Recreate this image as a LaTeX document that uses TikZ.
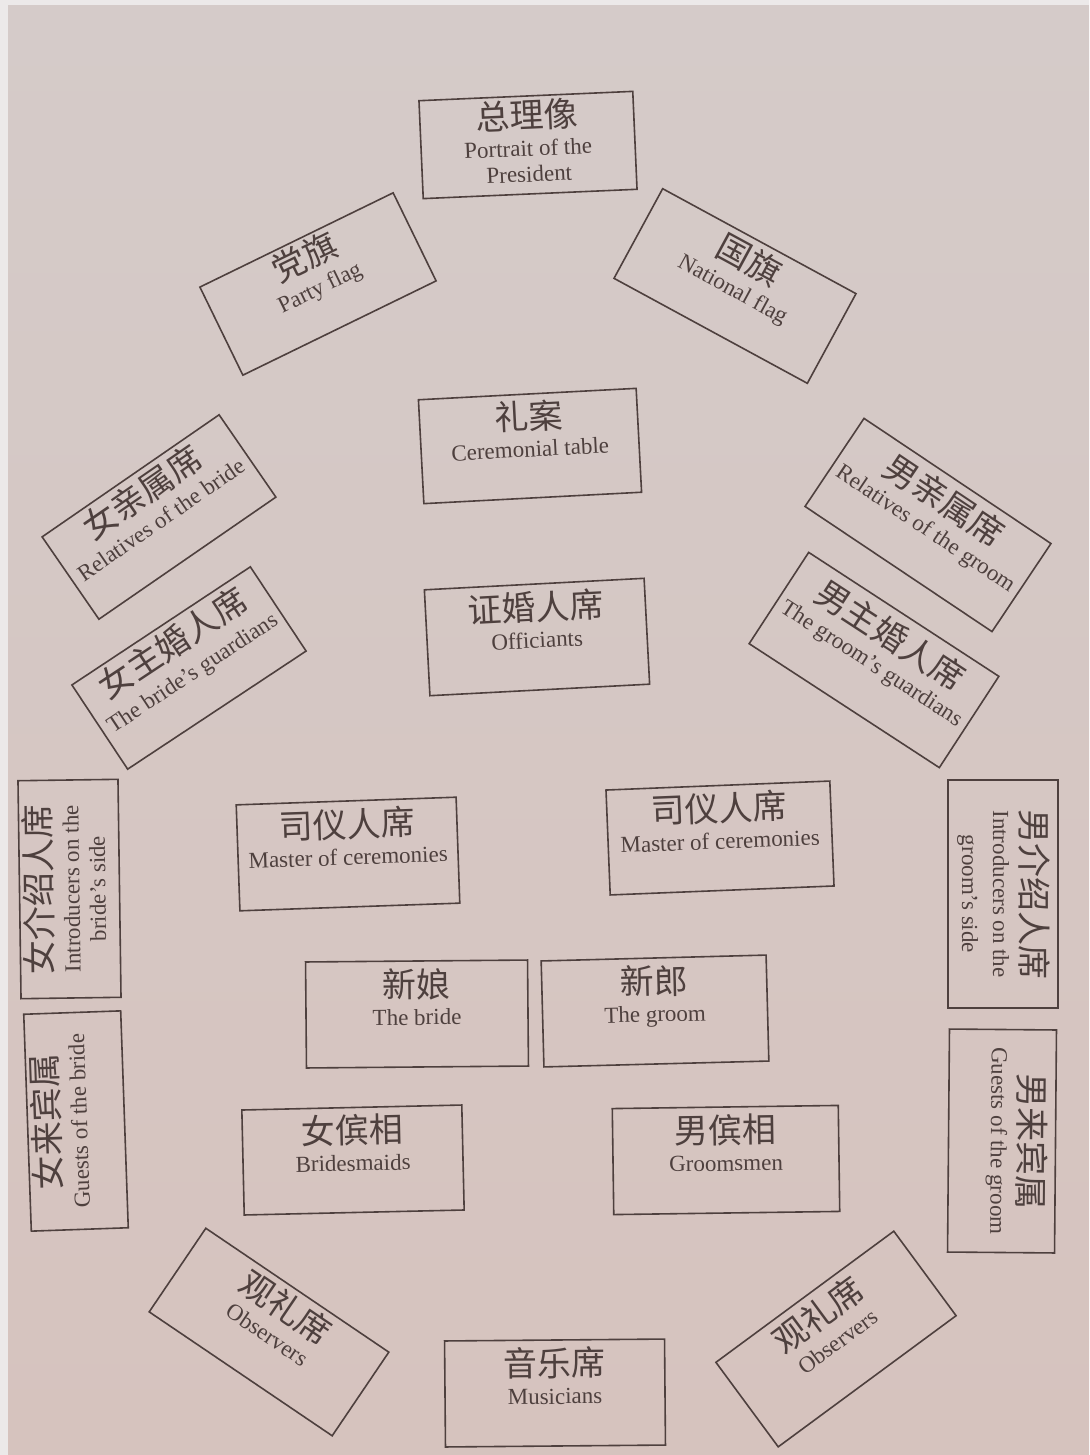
\documentclass[tikz,border=0pt]{standalone}
\usepackage{fontspec}
\setmainfont{Liberation Serif}
\newfontfamily\cjk{Noto Sans CJK SC}
\definecolor{papertop}{RGB}{213,203,201}
\definecolor{paperbot}{RGB}{214,195,190}
\definecolor{paperedge}{RGB}{236,233,233}
\definecolor{ink}{RGB}{78,64,62}
\newcommand\zh[1]{{\cjk\fontsize{17}{17}\selectfont #1}}
\tikzset{
  seatbox/.style={draw=ink,line width=0.8pt,rectangle,inner sep=0pt},
  seattext/.style={anchor=base,align=center,inner sep=0pt,text=ink,
    font=\fontsize{11.5}{13}\selectfont}
}
% name, x, y, angle, width, height, baseline of last text line, text
\newcommand\seat[8]{%
  \begin{scope}[shift={(#2,#3)},rotate=#4,transform shape]
    \node[seatbox,minimum width=#5*0.5pt,minimum height=#6*0.5pt] (#1) at (0,0) {};
    \node[seattext] (#1-t) at (0,#7) {#8};
  \end{scope}}
\begin{document}
\begin{tikzpicture}[x=0.5pt,y=-0.5pt]
\shade[top color=papertop,bottom color=paperbot] (0,0) rectangle (1089,1455);
\fill[paperedge] (0,0) rectangle (8,1455);
\fill[paperedge] (0,0) rectangle (1089,5);
\useasboundingbox (0,0) rectangle (1089,1455);

\seat{portrait}{528}{145}{2.5}{214}{98}{37}{\zh{总理像}\\[1pt]Portrait of the\\President}
\seat{party}{318}{284}{26}{215}{98}{11}{\zh{党旗}\\[1pt]Party flag}
\seat{national}{735}{286}{-28.5}{220}{102}{11}{\zh{国旗}\\[1pt]National flag}
\seat{table}{530}{446}{3}{218}{104}{11}{\zh{礼案}\\[1pt]Ceremonial table}
\seat{relbride}{159}{517}{34.6}{215}{100}{11}{\zh{女亲属席}\\[1pt]Relatives of the bride}
\seat{relgroom}{928}{525}{-33.8}{225}{106}{11}{\zh{男亲属席}\\[1pt]Relatives of the groom}
\seat{officiants}{537}{637}{3}{220}{106}{11}{\zh{证婚人席}\\[1pt]Officiants}
\seat{guardbride}{189}{668}{33.5}{214}{101}{13}{\zh{女主婚人席}\\[2pt]The bride’s guardians}
\seat{guardgroom}{874}{660}{-33.1}{227}{109}{11}{\zh{男主婚人席}\\[1pt]The groom’s guardians}
\seat{mcleft}{348}{854}{2}{220}{106}{11}{\zh{司仪人席}\\[1pt]Master of ceremonies}
\seat{mcright}{720}{838}{2.3}{224}{105}{11}{\zh{司仪人席}\\[1pt]Master of ceremonies}
\seat{introbride}{69.5}{889}{90.8}{218}{100}{36}{\zh{女介绍人席}\\[1pt]Introducers on the\\bride’s side}
\seat{introgroom}{1003}{894}{-90}{228}{110}{41}{\zh{男介绍人席}\\[1pt]Introducers on the\\[2.5pt]groom’s side}
\seat{bride}{417}{1014}{0.5}{222}{106}{11}{\zh{新娘}\\[1pt]The bride}
\seat{groom}{655}{1011}{1.5}{225}{106}{11}{\zh{新郎}\\[1pt]The groom}
\seat{guestbride}{76}{1121}{92}{217}{97}{11}{\zh{女来宾属}\\[1pt]Guests of the bride}
\seat{guestgroom}{1002}{1141}{-90.5}{223}{107}{11}{\zh{男来宾属}\\[1pt]Guests of the groom}
\seat{bridesmaids}{353}{1160}{1.3}{220}{105}{11}{\zh{女傧相}\\[1pt]Bridesmaids}
\seat{groomsmen}{726}{1160}{0.8}{226}{106}{11}{\zh{男傧相}\\[1pt]Groomsmen}
\seat{obsleft}{269}{1332}{-34.1}{221}{101}{11}{\zh{观礼席}\\[1pt]Observers}
\seat{obsright}{836}{1339}{36.4}{221}{105}{11}{\zh{观礼席}\\[1pt]Observers}
\seat{musicians}{555}{1393}{0.5}{220}{106}{11}{\zh{音乐席}\\[1pt]Musicians}
\end{tikzpicture}
\end{document}
